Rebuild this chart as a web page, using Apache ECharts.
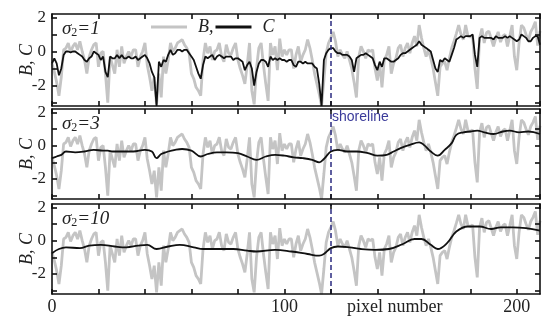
<!DOCTYPE html>
<html><head><meta charset="utf-8">
<script src="https://cdn.jsdelivr.net/npm/echarts@6/dist/echarts.min.js"></script>
<style>html,body{margin:0;padding:0;background:#fff}#c{width:550px;height:326px}</style>
</head><body><div id="c"></div>
<script>
// B: measured signal (same in all panels), one value per pixel 0..210
const B = [
-0.7,-1.2,-1.8,-2.6,-1.5,0.1,0.2,0.5,-0.05,0.3,
0.5,0.1,0.6,0.0,-0.5,-1.3,-0.3,0.1,0.4,0.5,
-0.9,-0.1,0.0,-1.3,-3.0,-0.3,-0.8,-1.3,0.1,-0.9,
0.3,-0.7,-0.3,0.0,-0.3,0.1,0.1,-0.9,-0.3,0.0,
0.5,-0.8,-1.5,-2.3,-1.5,-3.1,-1.3,-2.7,-0.3,-1.3,
-0.5,0.5,0.0,0.2,0.5,0.6,0.7,0.4,0.2,-0.1,
-1.3,-1.6,-2.1,-2.3,-2.6,-0.5,0.5,-0.1,0.3,-0.5,
0.0,0.1,0.5,-0.3,-0.6,0.4,-0.1,-0.2,0.2,0.5,
-0.5,-1.0,-1.4,-1.9,-0.8,0.5,-2.3,-3.1,-1.0,0.2,
0.5,-0.8,-1.9,-2.9,0.5,-0.2,0.3,-1.1,0.75,-0.3,
0.1,-0.2,0.1,0.1,-1.0,-0.2,0.3,-0.6,-0.2,0.1,
0.7,0.2,-0.5,-1.3,-1.9,-2.5,-3.2,-1.7,-0.1,0.5,
0.8,1.15,0.6,-0.3,0.1,-0.2,-0.4,0.0,-0.5,-1.0,
-1.8,-2.7,-0.3,0.3,0.0,-0.4,0.1,0.0,0.1,-1.0,
-1.7,-0.7,-2.1,-0.5,-0.2,0.3,-1.3,-0.7,-0.4,0.2,
0.4,-0.3,0.2,0.5,-0.1,0.5,0.9,0.3,1.55,0.8,
0.2,-0.3,0.1,-0.4,-1.0,-1.8,-2.6,-0.9,-0.7,-0.6,
-1.1,-0.4,0.2,0.6,1.05,1.55,1.0,0.7,1.55,0.9,
0.85,0.95,-1.0,-2.2,0.8,1.35,0.5,1.1,1.2,0.75,
0.3,0.8,1.15,0.55,0.9,1.0,0.3,0.9,1.55,-0.3,
-1.1,0.5,1.55,1.4,1.0,0.65,1.15,1.4,1.75,0.35,
1.2];
// C with sigma2 = 1, one value per pixel 0..210
const C1 = [
-0.7,-0.4,-0.7,-1.4,-1.0,-0.2,0.0,0.0,-0.05,0.0,
0.0,-0.1,-0.2,-0.3,-0.5,-0.6,-0.4,-0.3,0.0,-0.1,
-0.2,-0.5,-0.3,-1.2,-1.5,-0.3,-0.4,-0.4,-0.2,-0.4,
-0.2,-0.4,-0.4,-0.3,-0.4,-0.4,-0.3,-0.5,-0.4,-0.3,
-0.2,-0.4,-0.7,-1.2,-1.5,-3.2,-0.6,-0.9,-0.5,-0.6,
-0.2,0.1,-0.2,-0.1,0.1,0.1,0.0,0.1,0.1,-0.1,
-0.3,-0.5,-0.9,-1.3,-1.6,-0.8,-0.3,-0.4,-0.3,-0.2,
-0.5,-0.3,-0.2,-0.3,-0.4,-0.3,-0.3,-0.3,-0.5,-0.4,
-0.4,-0.5,-0.6,-1.1,-0.8,-0.6,-1.0,-2.0,-1.2,-0.7,
-0.5,-0.5,-0.6,-0.9,-0.3,-0.5,-0.4,-0.5,-0.4,-0.5,
-0.5,-0.6,-0.5,-0.5,-0.8,-0.9,-0.6,-0.6,-0.7,-0.6,
-0.7,-0.7,-0.7,-0.9,-1.0,-1.9,-3.2,-0.5,-0.1,0.1,
0.2,0.2,0.0,-0.1,-0.1,-0.2,-0.2,-0.2,-0.3,-0.5,
-1.2,-0.4,-0.3,-0.2,-0.2,-0.1,-0.2,-0.3,-0.4,-0.8,
-1.1,-0.6,-0.9,-0.4,-0.4,-0.5,-0.6,-0.6,-0.5,-0.4,
-0.2,-0.1,-0.1,0.0,0.1,0.2,0.3,0.4,0.6,0.4,
0.3,0.2,0.1,0.0,-0.5,-1.0,-1.2,-0.5,-0.6,-0.4,
-0.5,-0.6,-0.2,0.2,0.7,0.8,0.9,0.8,0.9,0.9,
0.9,1.0,-0.2,-0.9,0.8,0.9,0.8,0.8,0.8,0.8,
0.7,0.9,0.8,0.8,0.8,0.9,0.8,0.9,0.8,0.7,
0.6,0.7,1.0,0.9,0.8,0.6,0.6,0.8,0.9,0.9,
0.4];
// C with sigma2 = 3 (sampled pixels)
const C2x = [0,2,4,6,10,14,18,22,24,26,30,35,40,43,45,47,50,53,56,60,64,67,71,75,80,84,88,92,96,100,104,108,112,115,117,120,123,127,131,136,140,144,147,150,154,158,160,163,166,169,172,174,177,180,183,186,190,194,197,201,205,210];
const C2y = [-0.75,-0.65,-0.55,-0.35,-0.4,-0.35,-0.25,-0.3,-0.3,-0.35,-0.35,-0.35,-0.25,-0.35,-0.75,-0.5,-0.35,-0.25,-0.2,-0.3,-0.65,-0.5,-0.4,-0.4,-0.45,-0.65,-0.85,-0.65,-0.55,-0.6,-0.7,-0.75,-0.85,-1.0,-0.8,-0.35,-0.25,-0.35,-0.35,-0.45,-0.6,-0.55,-0.35,-0.15,0.05,0.2,0.05,-0.35,-0.6,-0.25,0.15,0.65,0.8,0.85,0.9,0.8,0.7,0.85,0.9,0.8,0.85,0.7];
// C with sigma2 = 10 (sampled pixels)
const C3x = [0,3,6,12,16,21,27,32,37,41,45,50,55,61,65,72,78,84,88,96,103,110,115,117,120,123,128,133,139,145,151,156,159,163,166,170,174,179,184,189,193,198,204,210];
const C3y = [-0.75,-0.5,-0.4,-0.45,-0.3,-0.25,-0.35,-0.4,-0.3,-0.25,-0.5,-0.35,-0.25,-0.4,-0.5,-0.5,-0.5,-0.6,-0.65,-0.55,-0.65,-0.8,-0.9,-0.8,-0.45,-0.35,-0.4,-0.5,-0.55,-0.5,-0.2,0.1,0.1,-0.25,-0.5,-0.15,0.55,0.85,0.85,0.7,0.8,0.8,0.75,0.6];
const SHORE = 120;
const sigmaLabels = ['1','3','10'];
const X_MIN = 0, X_MAX = 210, X_STEP = 20, X_LABEL_STEP = 100;
const Y_MIN = -3.2, Y_MAX = 2.2;            // plotted range
const YT_MIN = -3, YT_MAX = 2, Y_STEP = 1, Y_LABEL_STEP = 2;  // tick range

const pairsIdx = a => a.map((v,i)=>[i,v]);
const pairsXY = (xs,ys) => xs.map((x,i)=>[x,ys[i]]);
const Cdata = [pairsIdx(C1), pairsXY(C2x,C2y), pairsXY(C3x,C3y)];

const SERIF = '"Liberation Serif","DejaVu Serif",serif';
const tops = [14,109,204], heights = [92,90,90];
const grids=[], xAxes=[], yAxes=[], series=[], graphics=[];
const AL = {show:true,onZero:false,lineStyle:{color:'#111',width:1.6}};
const TK = {show:true,inside:true,length:5,lineStyle:{color:'#111',width:1.6}};
const isMult = (v,s) => Math.abs(v/s - Math.round(v/s)) < 1e-6;
const xFmt = v => isMult(v,X_LABEL_STEP) ? String(Math.round(v)) : '';
const yFmt = v => isMult(v,Y_LABEL_STEP) ? String(Math.round(v)) : '';
const span = Y_MAX - Y_MIN;
for (let p=0;p<3;p++){
  const h = heights[p];
  // data grid
  grids.push({left:52,right:10,top:tops[p],height:h,show:false});
  // tick grid aligned so that YT_MIN..YT_MAX maps onto the same pixels as in the data grid
  grids.push({left:52,right:10,top:tops[p] + (Y_MAX-YT_MAX)/span*h,height:(YT_MAX-YT_MIN)/span*h,show:false});
  const g = 2*p, gt = 2*p+1;
  const last = p===2;
  xAxes.push({type:'value',gridIndex:g,position:'bottom',min:X_MIN,max:X_MAX,interval:X_STEP,z:5,
    axisLine:AL, axisTick:TK,
    axisLabel:{show:last,formatter:xFmt,showMaxLabel:false,margin:4,fontFamily:SERIF,fontSize:18,color:'#222'},
    splitLine:{show:false}});
  xAxes.push({type:'value',gridIndex:g,position:'top',min:X_MIN,max:X_MAX,interval:X_STEP,z:5,
    axisLine:AL, axisTick:TK, axisLabel:{show:false},splitLine:{show:false}});
  xAxes.push({type:'value',gridIndex:gt,min:X_MIN,max:X_MAX,show:false});
  yAxes.push({type:'value',gridIndex:g,position:'left',min:Y_MIN,max:Y_MAX,z:5,
    name:'B, C',nameLocation:'middle',nameGap:16,nameRotate:90,
    nameTextStyle:{fontFamily:SERIF,fontStyle:'italic',fontSize:18,color:'#222'},
    axisLine:AL, axisTick:{show:false}, axisLabel:{show:false}, splitLine:{show:false}});
  yAxes.push({type:'value',gridIndex:g,position:'right',min:Y_MIN,max:Y_MAX,z:5,
    axisLine:AL, axisTick:{show:false}, axisLabel:{show:false}, splitLine:{show:false}});
  yAxes.push({type:'value',gridIndex:gt,position:'left',min:YT_MIN,max:YT_MAX,interval:Y_STEP,z:5,
    axisLine:{show:false}, axisTick:TK,
    axisLabel:{formatter:yFmt,margin:6,fontFamily:SERIF,fontSize:17,color:'#222'},
    splitLine:{show:false}});
  yAxes.push({type:'value',gridIndex:gt,position:'right',min:YT_MIN,max:YT_MAX,interval:Y_STEP,z:5,
    axisLine:{show:false}, axisTick:TK, axisLabel:{show:false}, splitLine:{show:false}});
  series.push({name:'B,',type:'line',xAxisIndex:3*p,yAxisIndex:4*p,data:pairsIdx(B),
    symbol:'none',lineStyle:{color:'#c4c4c4',width:2.8},itemStyle:{color:'#c4c4c4'},z:2,animation:false});
  series.push({name:'C',type:'line',xAxisIndex:3*p,yAxisIndex:4*p,data:Cdata[p],
    symbol:'none',smooth:p===0?false:0.4,lineStyle:{color:'#111',width:1.8},itemStyle:{color:'#111'},z:3,animation:false,
    markLine:{silent:true,symbol:'none',label:{show:false},animation:false,
      lineStyle:{color:'#2a2a80',type:[5,3],width:1.5},data:[{xAxis:SHORE}]}});
  graphics.push({type:'text',left:62,top:tops[p]+5,z:10,
    style:{text:'{i|σ}{s|2}{i|='+sigmaLabels[p]+'}',
      rich:{i:{fontFamily:SERIF,fontStyle:'italic',fontSize:19,fill:'#222'},
            s:{fontFamily:SERIF,fontSize:12,fill:'#222',padding:[9,0,0,0]}}}});
}
graphics.push({type:'text',left:332,top:110,z:10,style:{text:'shoreline',font:'14px "Liberation Sans", Arial, sans-serif',fill:'#3a3a9a'}});
graphics.push({type:'text',left:347,top:298,z:10,style:{text:'pixel number',font:'18px "Liberation Serif", serif',fill:'#222'}});

const chart = echarts.init(document.getElementById('c'),null,{renderer:'canvas'});
chart.setOption({
  animation:false,
  grid:grids, xAxis:xAxes, yAxis:yAxes, series:series, graphic:graphics,
  legend:{left:146,top:13,itemWidth:36,itemHeight:3,itemGap:2,
    data:[{name:'B,',icon:'rect'},{name:'C',icon:'rect'}],
    textStyle:{fontFamily:SERIF,fontStyle:'italic',fontSize:18,color:'#222',padding:[0,6,0,6]}}
});
</script></body></html>
